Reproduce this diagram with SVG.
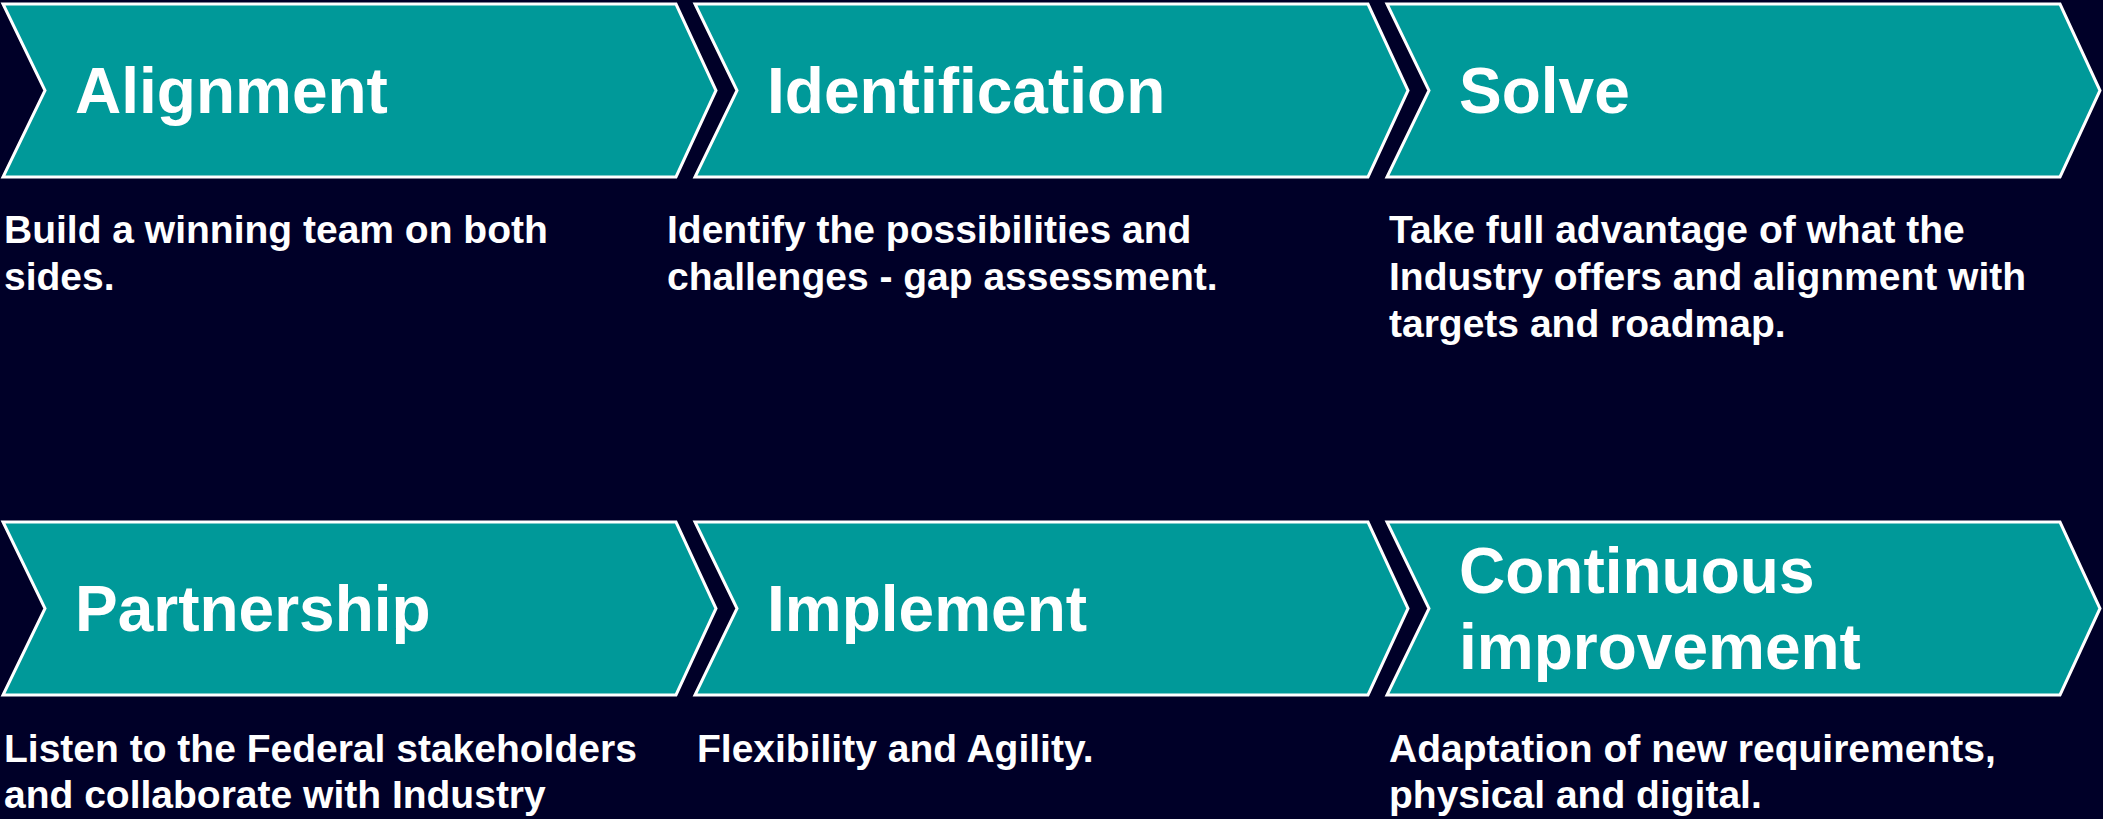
<svg xmlns="http://www.w3.org/2000/svg" width="2103" height="819" viewBox="0 0 2103 819">
<style>
.bg{fill:#000028}
.chev{fill:#009999;stroke:#ffffff;stroke-width:3}
.title{font-family:"Liberation Sans",Arial,sans-serif;font-weight:bold;font-size:64px;fill:#ffffff}
.desc{font-family:"Liberation Sans",Arial,sans-serif;font-weight:bold;font-size:39px;fill:#ffffff}
</style>
<defs>
<path id="chevShape" d="M0,0 L673,0 L713,86.5 L673,173 L0,173 L42,86.5 Z"/>
</defs>
<rect class="bg" x="0" y="0" width="2103" height="819"/>
<g id="alignment">
<use href="#chevShape" class="chev" x="3" y="4"/>
<text class="title" x="75" y="113">Alignment</text>
<text class="desc" x="4" y="243">Build a winning team on both</text>
<text class="desc" x="4" y="290">sides.</text>
</g>
<g id="identification">
<use href="#chevShape" class="chev" x="695" y="4"/>
<text class="title" x="767" y="113">Identification</text>
<text class="desc" x="667" y="243">Identify the possibilities and</text>
<text class="desc" x="667" y="290">challenges - gap assessment.</text>
</g>
<g id="solve">
<use href="#chevShape" class="chev" x="1387" y="4"/>
<text class="title" x="1459" y="113">Solve</text>
<text class="desc" x="1389" y="243">Take full advantage of what the</text>
<text class="desc" x="1389" y="290">Industry offers and alignment with</text>
<text class="desc" x="1389" y="337">targets and roadmap.</text>
</g>
<g id="partnership">
<use href="#chevShape" class="chev" x="3" y="522"/>
<text class="title" x="75" y="631">Partnership</text>
<text class="desc" x="4" y="762">Listen to the Federal stakeholders</text>
<text class="desc" x="4" y="808">and collaborate with Industry</text>
</g>
<g id="implement">
<use href="#chevShape" class="chev" x="695" y="522"/>
<text class="title" x="767" y="631">Implement</text>
<text class="desc" x="697" y="762">Flexibility and Agility.</text>
</g>
<g id="continuous-improvement">
<use href="#chevShape" class="chev" x="1387" y="522"/>
<text class="title" x="1459" y="593">Continuous</text>
<text class="title" x="1459" y="669">improvement</text>
<text class="desc" x="1389" y="762">Adaptation of new requirements,</text>
<text class="desc" x="1389" y="808">physical and digital.</text>
</g>
<g id="connectors"></g>
</svg>
